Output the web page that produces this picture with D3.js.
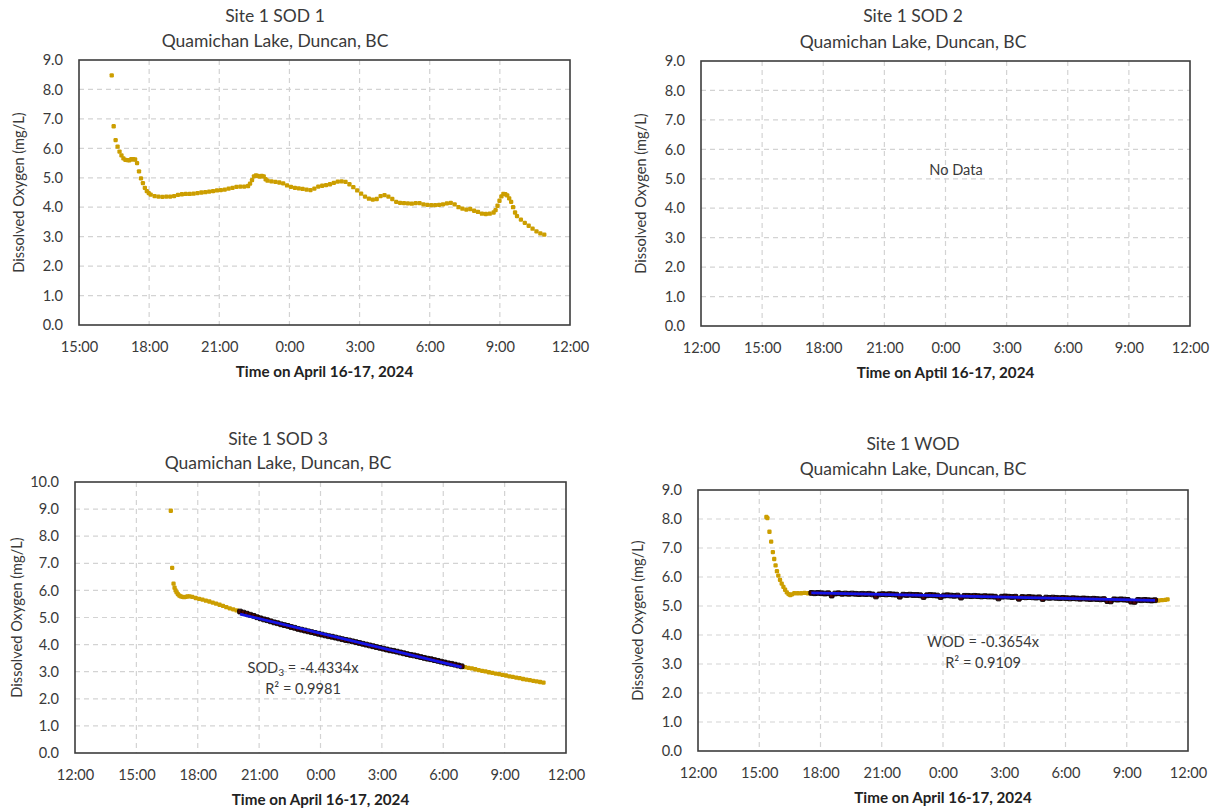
<!DOCTYPE html>
<html><head><meta charset="utf-8">
<script src="https://cdn.jsdelivr.net/npm/d3@7"></script>
<style>
body{margin:0;background:#fff;}
svg{display:block;font-family:Lato,"Open Sans",sans-serif;}
</style></head><body>
<svg id="c" width="1221" height="812"></svg>
<script>
// ---------------- DATA ----------------
const yTicks9 = [0,1,2,3,4,5,6,7,8,9];
const yTicks10 = [0,1,2,3,4,5,6,7,8,9,10];
const xTickHours = [15,18,21,0,3,6,9,12];

// Site 1 SOD 1 (time, DO mg/L)
const sod1Data = [["16:24",8.48],["16:29",6.75],["16:34",6.28],["16:39",6.06],["16:44",5.89],["16:49",5.76],["16:54",5.66],["16:59",5.61],["17:04",5.60],["17:09",5.59],["17:14",5.63],["17:19",5.63],["17:24",5.62],["17:29",5.50],["17:34",5.22],["17:39",4.98],["17:44",4.82],["17:49",4.66],["17:54",4.55],["17:59",4.48],["18:04",4.43],["18:14",4.38],["18:24",4.36],["18:34",4.35],["18:44",4.36],["18:54",4.36],["19:04",4.38],["19:14",4.42],["19:24",4.44],["19:34",4.45],["19:44",4.45],["19:54",4.46],["20:04",4.48],["20:14",4.50],["20:24",4.51],["20:34",4.53],["20:44",4.55],["20:54",4.57],["21:04",4.58],["21:14",4.60],["21:24",4.63],["21:34",4.66],["21:44",4.69],["21:54",4.70],["22:04",4.70],["22:14",4.72],["22:19",4.80],["22:24",4.92],["22:29",5.05],["22:34",5.08],["22:39",5.06],["22:44",5.04],["22:49",5.06],["22:54",5.05],["22:59",4.95],["23:04",4.90],["23:14",4.88],["23:24",4.86],["23:34",4.84],["23:44",4.81],["23:54",4.74],["00:04",4.69],["00:14",4.66],["00:24",4.64],["00:34",4.62],["00:44",4.60],["00:54",4.58],["01:04",4.63],["01:14",4.70],["01:24",4.73],["01:34",4.75],["01:44",4.78],["01:54",4.83],["02:04",4.87],["02:14",4.88],["02:24",4.86],["02:34",4.78],["02:44",4.68],["02:54",4.57],["03:04",4.46],["03:14",4.36],["03:24",4.29],["03:34",4.26],["03:44",4.28],["03:54",4.38],["04:04",4.41],["04:14",4.36],["04:24",4.28],["04:34",4.18],["04:44",4.15],["04:54",4.14],["05:04",4.13],["05:14",4.12],["05:24",4.14],["05:34",4.14],["05:44",4.10],["05:54",4.08],["06:04",4.07],["06:14",4.07],["06:24",4.08],["06:34",4.10],["06:44",4.13],["06:54",4.15],["07:04",4.10],["07:14",4.00],["07:24",3.95],["07:34",3.92],["07:44",3.94],["07:54",3.88],["08:04",3.84],["08:14",3.78],["08:24",3.77],["08:34",3.78],["08:44",3.82],["08:49",3.90],["08:54",4.05],["08:59",4.22],["09:04",4.37],["09:09",4.45],["09:14",4.44],["09:19",4.40],["09:24",4.30],["09:29",4.18],["09:34",4.00],["09:39",3.82],["09:44",3.70],["09:54",3.58],["10:04",3.47],["10:14",3.37],["10:24",3.27],["10:34",3.18],["10:44",3.11],["10:54",3.07]];

// Site 1 SOD 2: no data
const sod2Data = [];

// Site 1 SOD 3 (outside fit window, gold)
const sod3Data = [["16:41",8.94],["16:45",6.83],["16:49",6.25],["16:52",6.10],["16:55",6.00],["16:58",5.93],["17:02",5.86],["17:06",5.81],["17:10",5.78],["17:15",5.76],["17:20",5.75],["17:25",5.76],["17:30",5.78],["17:36",5.78],["17:44",5.76],["17:54",5.72],["18:04",5.69],["18:14",5.66],["18:24",5.62],["18:34",5.59],["18:44",5.55],["18:54",5.51],["19:04",5.47],["19:14",5.43],["19:24",5.38],["19:34",5.34],["19:44",5.30],["19:54",5.26],
["07:04",3.17],["07:14",3.14],["07:24",3.12],["07:34",3.09],["07:44",3.06],["07:54",3.03],["08:04",3.01],["08:14",2.98],["08:24",2.96],["08:34",2.93],["08:44",2.91],["08:54",2.88],["09:04",2.86],["09:14",2.83],["09:24",2.81],["09:34",2.78],["09:44",2.76],["09:54",2.73],["10:04",2.71],["10:14",2.69],["10:24",2.66],["10:34",2.64],["10:44",2.62],["10:54",2.60]];
// Site 1 SOD 3 (fit window, black)
const sod3FitData = [["20:04",5.22],["20:14",5.18],["20:24",5.14],["20:34",5.10],["20:44",5.06],["20:54",5.01],["21:04",4.97],["21:14",4.93],["21:24",4.90],["21:34",4.86],["21:44",4.82],["21:54",4.79],["22:04",4.75],["22:14",4.72],["22:24",4.69],["22:34",4.65],["22:44",4.62],["22:54",4.58],["23:04",4.55],["23:14",4.52],["23:24",4.49],["23:34",4.46],["23:44",4.43],["23:54",4.40],["00:04",4.37],["00:14",4.34],["00:24",4.31],["00:34",4.29],["00:44",4.26],["00:54",4.23],["01:04",4.20],["01:14",4.17],["01:24",4.15],["01:34",4.12],["01:44",4.09],["01:54",4.06],["02:04",4.03],["02:14",4.00],["02:24",3.97],["02:34",3.94],["02:44",3.91],["02:54",3.88],["03:04",3.85],["03:14",3.82],["03:24",3.79],["03:34",3.77],["03:44",3.74],["03:54",3.71],["04:04",3.68],["04:14",3.65],["04:24",3.62],["04:34",3.60],["04:44",3.57],["04:54",3.54],["05:04",3.51],["05:14",3.48],["05:24",3.46],["05:34",3.43],["05:44",3.40],["05:54",3.37],["06:04",3.34],["06:14",3.31],["06:24",3.29],["06:34",3.26],["06:44",3.23],["06:54",3.20]];

// Site 1 WOD (outside fit window, gold)
const wodData = [["15:21",8.07],["15:24",8.03],["15:30",7.56],["15:35",7.22],["15:40",6.86],["15:44",6.62],["15:48",6.40],["15:52",6.20],["15:56",6.05],["16:01",5.90],["16:06",5.77],["16:11",5.66],["16:16",5.56],["16:21",5.47],["16:26",5.41],["16:31",5.38],["16:36",5.40],["16:43",5.44],["16:53",5.44],["17:03",5.44],["17:13",5.45],["17:23",5.44],
["10:33",5.19],["10:43",5.20],["10:53",5.21],["11:00",5.23]];
// Site 1 WOD (fit window, black)
const wodFitData = [["17:33",5.45],["17:43",5.44],["17:53",5.45],["18:03",5.44],["18:13",5.43],["18:23",5.44],["18:33",5.36],["18:43",5.43],["18:53",5.44],["19:03",5.42],["19:13",5.43],["19:23",5.42],["19:33",5.43],["19:43",5.42],["19:53",5.41],["20:03",5.42],["20:13",5.41],["20:23",5.42],["20:33",5.40],["20:43",5.33],["20:53",5.40],["21:03",5.41],["21:13",5.40],["21:23",5.41],["21:33",5.40],["21:43",5.39],["21:53",5.32],["22:03",5.39],["22:13",5.38],["22:23",5.39],["22:33",5.38],["22:43",5.38],["22:53",5.37],["23:03",5.31],["23:13",5.37],["23:23",5.38],["23:33",5.37],["23:43",5.36],["23:53",5.31],["00:03",5.36],["00:13",5.37],["00:23",5.36],["00:33",5.35],["00:43",5.36],["00:53",5.29],["01:03",5.35],["01:13",5.35],["01:23",5.34],["01:33",5.35],["01:43",5.34],["01:53",5.33],["02:03",5.34],["02:13",5.33],["02:23",5.33],["02:33",5.32],["02:43",5.26],["02:53",5.32],["03:03",5.33],["03:13",5.32],["03:23",5.31],["03:33",5.32],["03:43",5.25],["03:53",5.31],["04:03",5.30],["04:13",5.31],["04:23",5.30],["04:33",5.29],["04:43",5.30],["04:53",5.24],["05:03",5.29],["05:13",5.28],["05:23",5.29],["05:33",5.28],["05:43",5.27],["05:53",5.28],["06:03",5.27],["06:13",5.26],["06:23",5.27],["06:33",5.26],["06:43",5.25],["06:53",5.26],["07:03",5.25],["07:13",5.24],["07:23",5.25],["07:33",5.24],["07:43",5.23],["07:53",5.24],["08:03",5.17],["08:13",5.16],["08:23",5.23],["08:33",5.22],["08:43",5.23],["08:53",5.22],["09:03",5.21],["09:13",5.15],["09:23",5.14],["09:33",5.21],["09:43",5.20],["09:53",5.21],["10:03",5.20],["10:13",5.19],["10:23",5.20]];

const titles = ["Site 1 SOD 1","Site 1 SOD 2","Site 1 SOD 3","Site 1 WOD"];
const subtitles = ["Quamichan Lake, Duncan, BC","Quamichan Lake, Duncan, BC","Quamichan Lake, Duncan, BC","Quamicahn Lake, Duncan, BC"];
const xTitles = ["Time on April 16-17, 2024","Time on Aptil 16-17, 2024","Time on April 16-17, 2024","Time on April 16-17, 2024"];
const yTitle = "Dissolved Oxygen (mg/L)";

// ---------------- HELPERS ----------------
function toSeries(pairs){
  let day = 16, prev = -1;
  return pairs.map(([t,v])=>{
    const [h,m] = t.split(":").map(Number);
    const mins = h*60+m;
    if (mins < prev) day++;
    prev = mins;
    return {t:new Date(2024,3,day,h,m), v};
  });
}
function regress(pts){
  const t0 = pts[0].t.getTime();
  const xs = pts.map(p=>(p.t.getTime()-t0)/86400000), ys = pts.map(p=>p.v);
  const mx = d3.mean(xs), my = d3.mean(ys);
  let sxy=0,sxx=0; xs.forEach((x,i)=>{sxy+=(x-mx)*(ys[i]-my); sxx+=(x-mx)*(x-mx);});
  const b = sxy/sxx, a = my-b*mx;
  return d=>a+b*((d.getTime()-t0)/86400000);
}

const svg = d3.select("#c");
const GOLD = "#CC9E00", INK = "#3a3a3a";
const fmtTime = d3.timeFormat("%-H:%M");

const layout = [
 {x0:79,x1:570,y0:60,y1:325,start:new Date(2024,3,16,15),end:new Date(2024,3,17,12),yTicks:yTicks9,
  tx:275,ty1:16,ty2:41,ylx:18.5,xtY:372},
 {x0:701,x1:1190,y0:61,y1:326,start:new Date(2024,3,16,12),end:new Date(2024,3,17,12),yTicks:yTicks9,
  tx:913,ty1:16,ty2:41.5,ylx:641,xtY:373},
 {x0:75,x1:566,y0:482,y1:753,start:new Date(2024,3,16,12),end:new Date(2024,3,17,12),yTicks:yTicks10,
  tx:278,ty1:439,ty2:463,ylx:16.5,xtY:800},
 {x0:698,x1:1188,y0:490,y1:751,start:new Date(2024,3,16,12),end:new Date(2024,3,17,12),yTicks:yTicks9,
  tx:913,ty1:444,ty2:469,ylx:638,xtY:798}
];
const dataSets = [
 {gold:toSeries(sod1Data), fit:null},
 {gold:toSeries(sod2Data), fit:null, noData:true},
 {gold:toSeries(sod3Data), fit:toSeries(sod3FitData), eq:["SOD","3"," = -4.4334x"], r2:"R² = 0.9981", eqX:303, eqY:668},
 {gold:toSeries(wodData), fit:toSeries(wodFitData), eq:["WOD","",  " = -0.3654x"], r2:"R² = 0.9109", eqX:983, eqY:642}
];

const TFS = 17.5, FS = 14.6, BFS = 15.2;

layout.forEach((L,i)=>{
  const D = dataSets[i];
  const g = svg.append("g");
  const x = d3.scaleTime().domain([L.start,L.end]).range([L.x0,L.x1]);
  const yMax = d3.max(L.yTicks);
  const y = d3.scaleLinear().domain([0,yMax]).range([L.y1,L.y0]);
  const xt = d3.timeHour.every(3).range(L.start, new Date(L.end.getTime()+1));

  // grid
  g.append("g").selectAll("line").data(L.yTicks.filter(v=>v>0&&v<yMax)).join("line")
    .attr("x1",L.x0).attr("x2",L.x1).attr("y1",d=>y(d)).attr("y2",d=>y(d))
    .attr("stroke","#D3D3D3").attr("stroke-width",1.2).attr("stroke-dasharray","5,4");
  g.append("g").selectAll("line").data(xt.slice(1,-1)).join("line")
    .attr("x1",d=>x(d)).attr("x2",d=>x(d)).attr("y1",L.y0).attr("y2",L.y1)
    .attr("stroke","#D3D3D3").attr("stroke-width",1.2).attr("stroke-dasharray","5,4");

  // axes
  const ya = g.append("g").attr("transform",`translate(${L.x0},0)`)
    .call(d3.axisLeft(y).tickValues(L.yTicks).tickFormat(d3.format(".1f")).tickSize(0).tickPadding(16));
  const xa = g.append("g").attr("transform",`translate(0,${L.y1})`)
    .call(d3.axisBottom(x).tickValues(xt).tickFormat(fmtTime).tickSize(0).tickPadding(17));
  [ya,xa].forEach(a=>{a.select(".domain").remove();
    a.selectAll("text").attr("font-size",FS).attr("fill",INK).attr("font-family","Lato");});

  // frame
  g.append("rect").attr("x",L.x0).attr("y",L.y0).attr("width",L.x1-L.x0).attr("height",L.y1-L.y0)
    .attr("fill","none").attr("stroke","#3d3d3d").attr("stroke-width",1.6);

  // data
  const S = 4.3;
  g.append("g").selectAll("rect").data(D.gold).join("rect")
    .attr("x",d=>x(d.t)-S/2).attr("y",d=>y(d.v)-S/2).attr("width",S).attr("height",S).attr("rx",1.2)
    .attr("fill",GOLD);
  if (D.fit){
    g.append("g").selectAll("rect").data(D.fit).join("rect")
      .attr("x",d=>x(d.t)-2.4).attr("y",d=>y(d.v)-2.4).attr("width",4.8).attr("height",4.8).attr("rx",1)
      .attr("fill","#4a0505").attr("stroke","#000").attr("stroke-width",0.9);
    const f = regress(D.fit);
    const ends = [D.fit[0].t, D.fit[D.fit.length-1].t];
    g.append("line").attr("x1",x(ends[0])).attr("y1",y(f(ends[0]))).attr("x2",x(ends[1])).attr("y2",y(f(ends[1])))
      .attr("stroke","#1414E6").attr("stroke-width",2.8);
    const t = g.append("text").attr("x",D.eqX).attr("y",D.eqY+0.36*FS).attr("text-anchor","middle")
      .attr("font-size",FS).attr("fill",INK);
    t.append("tspan").text(D.eq[0]);
    if (D.eq[1]) t.append("tspan").attr("font-size",FS*0.7).attr("dy",3).text(D.eq[1]);
    t.append("tspan").attr("dy",D.eq[1]?-3:0).text(D.eq[2]);
    g.append("text").attr("x",D.eqX).attr("y",D.eqY+21+0.36*FS).attr("text-anchor","middle")
      .attr("font-size",FS).attr("fill",INK).text(D.r2);
  }
  if (D.noData){
    g.append("text").attr("x",956).attr("y",170+0.36*FS).attr("text-anchor","middle")
      .attr("font-size",FS).attr("fill",INK).text("No Data");
  }

  // titles
  g.append("text").attr("x",L.tx).attr("y",L.ty1+0.36*TFS).attr("text-anchor","middle")
    .attr("font-size",TFS).attr("fill",INK).text(titles[i]);
  g.append("text").attr("x",L.tx).attr("y",L.ty2+0.36*TFS).attr("text-anchor","middle")
    .attr("font-size",TFS).attr("fill",INK).text(subtitles[i]);
  g.append("text").attr("x",(L.x0+L.x1)/2).attr("y",L.xtY+0.36*BFS).attr("text-anchor","middle")
    .attr("font-size",BFS).attr("font-weight","bold").attr("fill","#222").text(xTitles[i]);
  g.append("text").attr("transform",`translate(${L.ylx+0.36*FS},${(L.y0+L.y1)/2}) rotate(-90)`)
    .attr("text-anchor","middle").attr("font-size",FS).attr("fill",INK).text(yTitle);
});
</script>
</body></html>
